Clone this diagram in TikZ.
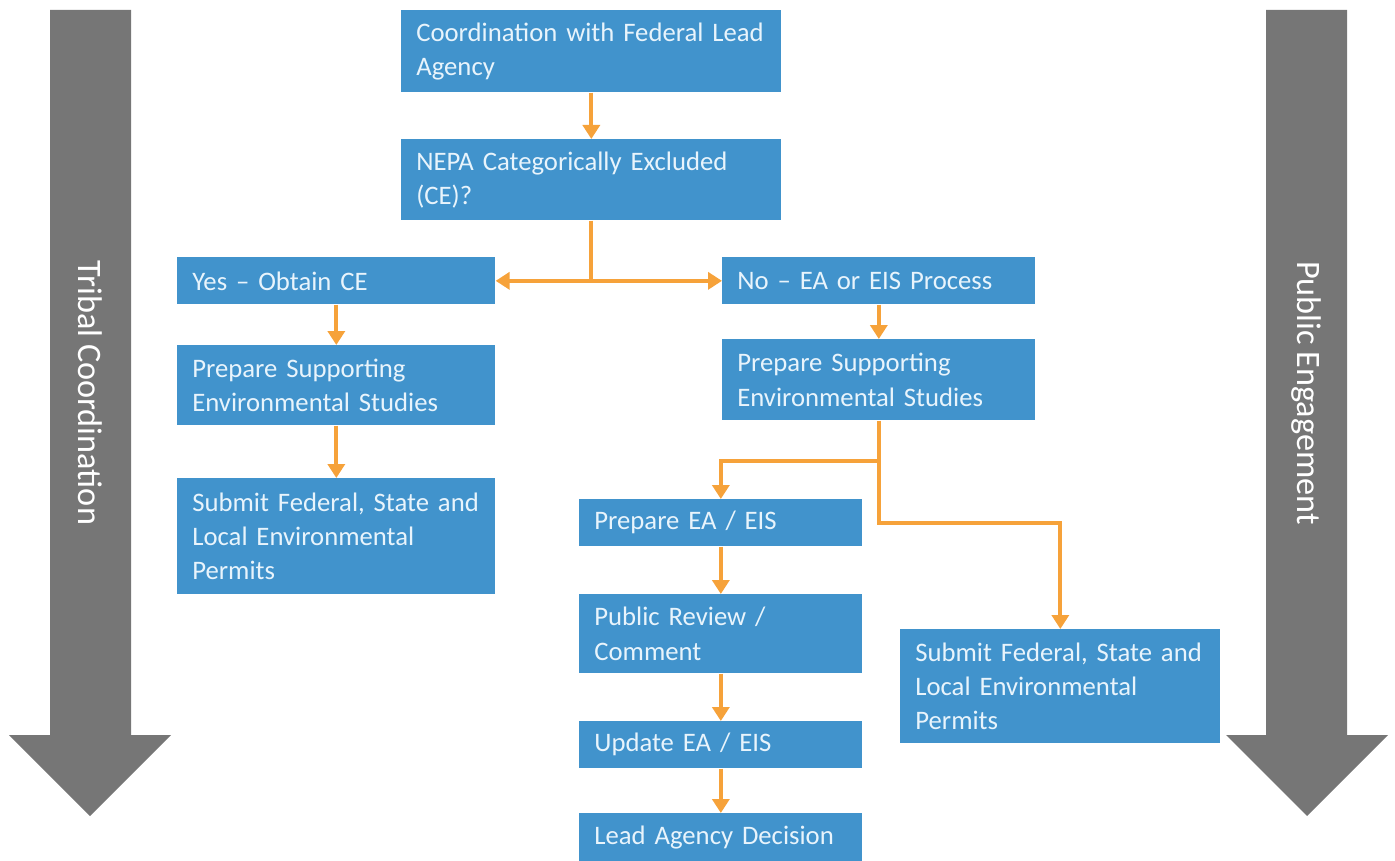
\documentclass[tikz,border=0pt]{standalone}
\usepackage{fontspec}
\setmainfont[WordSpace=0.85]{Carlito}
\usetikzlibrary{arrows.meta}
\definecolor{boxblue}{HTML}{4193CC}
\definecolor{boxtext}{HTML}{E8F4FC}
\definecolor{flowor}{HTML}{F6A23A}
\definecolor{biggray}{HTML}{767676}
\tikzset{
  box/.style={rectangle, fill=boxblue, text=boxtext, anchor=north west,
    inner xsep=0.3cm, inner ysep=0pt, align=left,
    font=\fontsize{15.2}{19.4}\selectfont},
  flow/.style={draw=flowor, line width=0.08cm,
    -{Triangle[width=0.34cm,length=0.28cm]}},
  side/.style={text=white, rotate=-90, font=\fontsize{19.5}{22}\selectfont}
}
\begin{document}
\begin{tikzpicture}[x=0.02cm, y=-0.02cm]
\useasboundingbox (0,0) rectangle (1395,861);
% big side arrows
\fill[biggray] (50,10)--(131,10)--(131,735)--(171,735)--(90,816)--(9,735)--(50,735)--cycle;
\fill[biggray] (1266,10)--(1347,10)--(1347,735)--(1388,735)--(1307,816)--(1226,735)--(1266,735)--cycle;
\node[side] (tribal) at (90,393) {Tribal Coordination};
\node[side] (public) at (1306,393) {Public Engagement};
% boxes
\node[box, minimum width=7.6cm, text width=7cm, minimum height=1.64cm] (coord) at (401,10) {Coordination with Federal Lead\\Agency};
\node[box, minimum width=7.6cm, text width=7cm, minimum height=1.62cm] (nepa) at (401,139) {NEPA Categorically Excluded\\(CE)?};
\node[box, minimum width=6.36cm, text width=5.76cm, minimum height=0.94cm] (yes) at (177,257) {Yes -- Obtain CE};
\node[box, minimum width=6.26cm, text width=5.66cm, minimum height=0.94cm] (no) at (722,257) {No -- EA or EIS Process};
\node[box, minimum width=6.36cm, text width=5.76cm, minimum height=1.6cm] (prepL) at (177,345) {Prepare Supporting\\Environmental Studies};
\node[box, minimum width=6.26cm, text width=5.66cm, minimum height=1.62cm] (prepR) at (722,339) {Prepare Supporting\\Environmental Studies};
\node[box, minimum width=6.36cm, text width=5.76cm, minimum height=2.32cm] (subL) at (177,478) {Submit Federal, State and\\Local Environmental\\Permits};
\node[box, minimum width=5.66cm, text width=5.06cm, minimum height=0.94cm] (prepEA) at (579,499) {Prepare EA / EIS};
\node[box, minimum width=5.66cm, text width=5.06cm, minimum height=1.58cm] (review) at (579,594) {Public Review /\\Comment};
\node[box, minimum width=5.66cm, text width=5.06cm, minimum height=0.94cm] (update) at (579,721) {Update EA / EIS};
\node[box, minimum width=5.66cm, text width=5.06cm, minimum height=0.96cm] (decide) at (579,813) {Lead Agency Decision};
\node[box, minimum width=6.4cm, text width=5.8cm, minimum height=2.28cm] (subR) at (900,629) {Submit Federal, State and\\Local Environmental\\Permits};
% connectors
\draw[flow] (coord) -- (nepa);
\draw[flow, -] (nepa.south) -- (nepa.south |- yes.east);
\draw[flow, {Triangle[width=0.34cm,length=0.28cm]}-{Triangle[width=0.34cm,length=0.28cm]}] (yes.east) -- (no.west);
\draw[flow] (yes) -- (prepL);
\draw[flow] (prepL) -- (subL);
\draw[flow] (no) -- (prepR);
\draw[flow, -] (prepR.south) -- ++(0,40) coordinate (fork);
\draw[flow] (fork) -| (prepEA.north);
\draw[flow] (fork) -- (fork |- prepEA.east) -| (subR.north);
\draw[flow] (prepEA) -- (review);
\draw[flow] (review) -- (update);
\draw[flow] (update) -- (decide);
\end{tikzpicture}
\end{document}
